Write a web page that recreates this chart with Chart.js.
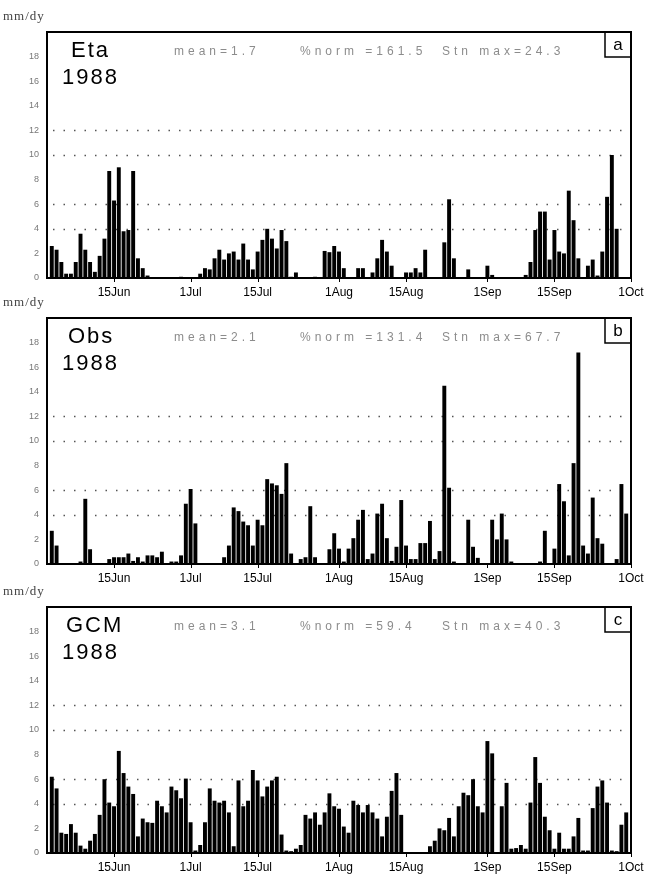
<!DOCTYPE html>
<html>
<head>
<meta charset="utf-8">
<script src="https://cdn.jsdelivr.net/npm/chart.js@4.4.0/dist/chart.umd.min.js"></script>
<style>
  body { margin: 0; background: #fff; width: 663px; height: 874px; position: relative; overflow: hidden; }
  .panel { position: absolute; left: 0; width: 663px; height: 300px; }
</style>
</head>
<body>
<div class="panel" style="top:0px"><canvas id="etaChart" width="663" height="300"></canvas></div>
<div class="panel" style="top:286px"><canvas id="obsChart" width="663" height="300"></canvas></div>
<div class="panel" style="top:575px"><canvas id="gcmChart" width="663" height="300"></canvas></div>

<script>
// 1) Data: daily precip (mm/dy), one value per day from 1 Jun (day 0) to 30 Sep 1988
const etaRain = [
  0, 2.6, 2.3, 1.3, 0.35, 0.35, 1.3, 3.6, 2.3, 1.3,
  0.5, 1.8, 3.2, 8.7, 6.3, 9.0, 3.8, 3.9, 8.7, 1.6,
  0.8, 0.2, 0, 0, 0, 0, 0, 0, 0.1, 0,
  0, 0, 0.35, 0.8, 0.7, 1.6, 2.3, 1.5, 2.0, 2.15,
  1.5, 2.8, 1.5, 0.7, 2.15, 3.1, 4.0, 3.2, 2.4, 3.9,
  3.0, 0.1, 0.45, 0, 0, 0, 0.1, 0, 2.2, 2.1,
  2.6, 2.15, 0.8, 0, 0, 0.8, 0.8, 0, 0.45, 1.6,
  3.1, 2.15, 1.0, 0, 0, 0.45, 0.45, 0.8, 0.45, 2.3,
  0, 0, 0, 2.9, 6.4, 1.6, 0, 0, 0.7, 0,
  0, 0, 1.0, 0.25, 0, 0, 0, 0, 0, 0,
  0.25, 1.3, 3.9, 5.4, 5.4, 1.5, 3.9, 2.15, 2.0, 7.1,
  4.7, 1.6, 0, 1.0, 1.5, 0.2, 2.15, 6.6, 10.0, 4.0,
  0, 0
];

const obsRain = [
  0, 2.7, 1.5, 0, 0, 0, 0, 0.2, 5.3, 1.2,
  0, 0, 0, 0.4, 0.55, 0.55, 0.55, 0.85, 0.25, 0.55,
  0.2, 0.7, 0.7, 0.55, 1.0, 0, 0.2, 0.2, 0.7, 4.9,
  6.1, 3.3, 0, 0, 0, 0, 0, 0.55, 1.5, 4.6,
  4.3, 3.45, 3.15, 1.5, 3.6, 3.15, 6.9, 6.55, 6.4, 5.7,
  8.2, 0.85, 0, 0.4, 0.55, 4.7, 0.55, 0, 0, 1.2,
  2.5, 1.25, 0.2, 1.25, 2.1, 3.6, 4.4, 0.4, 0.85, 4.1,
  4.9, 2.1, 0.25, 1.4, 5.2, 1.5, 0.4, 0.4, 1.7, 1.7,
  3.5, 0.4, 1.05, 14.5, 6.2, 0.2, 0, 0, 3.6, 1.4,
  0.5, 0, 0, 3.6, 2.0, 4.1, 2.0, 0.2, 0, 0,
  0, 0, 0, 0.2, 2.7, 0, 1.25, 6.5, 5.1, 0.7,
  8.2, 17.2, 1.5, 0.85, 5.4, 2.1, 1.65, 0, 0, 0.4,
  6.5, 4.1
];

const gcmRain = [
  0, 6.2, 5.25, 1.65, 1.55, 2.35, 1.65, 0.6, 0.35, 1.0,
  1.55, 3.1, 6.0, 4.1, 3.8, 8.3, 6.5, 5.4, 4.8, 1.35,
  2.8, 2.5, 2.45, 4.25, 3.8, 3.3, 5.4, 5.1, 4.45, 6.05,
  2.5, 0.2, 0.65, 2.5, 5.25, 4.25, 4.1, 4.25, 3.3, 0.55,
  5.9, 3.8, 4.25, 6.75, 5.9, 4.6, 5.4, 5.9, 6.2, 1.5,
  0.2, 0.15, 0.35, 0.65, 3.1, 2.8, 3.3, 2.3, 3.3, 4.85,
  3.8, 3.6, 2.15, 1.65, 4.25, 3.9, 3.3, 3.9, 3.3, 2.8,
  1.35, 2.95, 5.05, 6.5, 3.1, 0, 0, 0, 0, 0,
  0.55, 1.0, 2.0, 1.85, 2.85, 1.35, 3.8, 4.9, 4.7, 6.0,
  3.8, 3.3, 9.1, 8.1, 0, 3.8, 5.7, 0.35, 0.4, 0.65,
  0.35, 4.1, 7.8, 5.7, 2.95, 1.85, 0.35, 1.65, 0.35, 0.35,
  1.35, 2.85, 0.2, 0.2, 3.65, 5.4, 5.9, 4.1, 0.2, 0.15,
  2.3, 3.3
];

// x axis: days since 1 Jun, labelled dates
const tickDays = [14, 30, 44, 61, 75, 92, 106, 122];
const tickLabels = ['15Jun', '1Jul', '15Jul', '1Aug', '15Aug', '1Sep', '15Sep', '1Oct'];
// y levels with the dotted guide lines
const dottedLevels = [4, 6, 10, 12];

// 2) Drawing extras: frame, dotted guides, panel titles and stats
const panelDecor = {
  id: 'panelDecor',
  beforeDatasetsDraw(chart, args, opts) {
    const { ctx, chartArea: a, scales: { y } } = chart;
    ctx.save();
    ctx.strokeStyle = '#555';
    ctx.lineWidth = 1.5;
    ctx.setLineDash([1.5, 9]);
    dottedLevels.forEach(v => {
      const py = Math.round(y.getPixelForValue(v)) + 0.5;
      ctx.beginPath();
      ctx.moveTo(a.left + 6, py);
      ctx.lineTo(a.right, py);
      ctx.stroke();
    });
    ctx.restore();
  },
  afterDraw(chart, args, opts) {
    const { ctx, chartArea: a, scales: { x } } = chart;
    ctx.save();

    // frame
    ctx.strokeStyle = '#000';
    ctx.lineWidth = 2;
    ctx.strokeRect(a.left, a.top, a.right - a.left, a.bottom - a.top);

    // small date ticks under the axis
    ctx.lineWidth = 1;
    tickDays.forEach(d => {
      const px = Math.round(x.getPixelForValue(d)) + 0.5;
      ctx.beginPath();
      ctx.moveTo(px, a.bottom);
      ctx.lineTo(px, a.bottom + 4);
      ctx.stroke();
    });

    // corner letter box
    ctx.lineWidth = 1.5;
    ctx.strokeRect(a.right - 26, a.top, 26, 25);
    ctx.fillStyle = '#000';
    ctx.font = '17px "Liberation Sans", Arial, sans-serif';
    ctx.textAlign = 'center';
    ctx.textBaseline = 'middle';
    ctx.fillText(opts.letter, a.right - 13, a.top + 13);

    // units label
    ctx.textAlign = 'left';
    ctx.fillStyle = '#444';
    ctx.font = '13px "Liberation Serif", serif';
    ctx.letterSpacing = '1px';
    ctx.fillText('mm/dy', 3, a.top - 15);

    // run name and year
    ctx.fillStyle = '#000';
    ctx.font = '22px "Liberation Sans", Arial, sans-serif';
    ctx.letterSpacing = '2px';
    ctx.fillText(opts.name, opts.nameX, a.top + 19);
    ctx.fillText(opts.year, 62, a.top + 46);

    // stats
    ctx.fillStyle = '#8c8c8c';
    ctx.font = '12px "Liberation Sans", Arial, sans-serif';
    ctx.letterSpacing = '4px';
    ctx.fillText(opts.stats[0], 174, a.top + 20);
    ctx.fillText(opts.stats[1], 300, a.top + 20);
    ctx.fillText(opts.stats[2], 442, a.top + 20);

    ctx.restore();
  }
};

// 3) One function builds each panel
function makePanel(canvasId, values, decor) {
  return new Chart(document.getElementById(canvasId), {
    type: 'bar',
    data: {
      datasets: [{
        data: values.map((v, i) => ({ x: i, y: v })),
        backgroundColor: '#000',
        borderWidth: 0,
        barPercentage: 0.82,
        categoryPercentage: 1.0
      }]
    },
    options: {
      responsive: false,
      animation: false,
      layout: { padding: { top: 32, right: 32, left: 0, bottom: 0 } },
      plugins: {
        legend: { display: false },
        tooltip: { enabled: false },
        panelDecor: decor
      },
      scales: {
        x: {
          type: 'linear',
          min: 0,
          max: 122,
          offset: false,
          grid: { display: false, drawTicks: false },
          border: { display: false },
          afterBuildTicks: s => { s.ticks = tickDays.map(v => ({ value: v })); },
          afterFit: s => { s.height = 22; },
          ticks: {
            autoSkip: false,
            maxRotation: 0,
            minRotation: 0,
            padding: 7,
            color: '#000',
            font: { family: '"Liberation Sans", Arial, sans-serif', size: 12 },
            callback: v => tickLabels[tickDays.indexOf(v)]
          }
        },
        y: {
          min: 0,
          max: 20,
          grid: { display: false, drawTicks: false },
          border: { display: false },
          afterFit: s => { s.width = 47; },
          ticks: {
            stepSize: 2,
            padding: 8,
            color: '#777',
            font: { family: '"Liberation Sans", Arial, sans-serif', size: 9 },
            callback: v => (v === 20 ? '' : v)
          }
        }
      }
    },
    plugins: [panelDecor]
  });
}

makePanel('etaChart', etaRain, {
  name: 'Eta', nameX: 71, year: '1988', letter: 'a',
  stats: ['mean=1.7', '%norm =161.5', 'Stn max=24.3']
});
makePanel('obsChart', obsRain, {
  name: 'Obs', nameX: 68, year: '1988', letter: 'b',
  stats: ['mean=2.1', '%norm =131.4', 'Stn max=67.7']
});
makePanel('gcmChart', gcmRain, {
  name: 'GCM', nameX: 66, year: '1988', letter: 'c',
  stats: ['mean=3.1', '%norm =59.4', 'Stn max=40.3']
});
</script>
</body>
</html>
